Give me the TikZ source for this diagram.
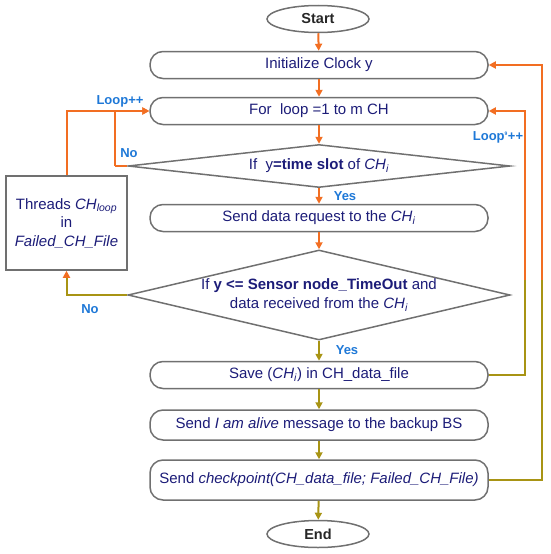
\documentclass[tikz,border=0pt]{standalone}
\usepackage{fontspec}
\setmainfont{Liberation Sans}
\usetikzlibrary{shapes.geometric,arrows.meta}
\definecolor{orng}{RGB}{242,110,34}
\definecolor{olv}{RGB}{168,148,20}
\definecolor{lblue}{RGB}{30,120,215}
\definecolor{navy}{RGB}{28,28,120}
\definecolor{bord}{RGB}{112,112,112}
\tikzset{
  x=1pt,y=-1pt,
  txt/.style={font=\fontsize{15}{18.5}\selectfont, text=navy},
  procbox/.style={txt, draw=bord, line width=1.5pt, rounded corners=13pt, minimum width=338pt, minimum height=27pt, inner sep=2pt},
  term/.style={draw=bord, line width=1.5pt, ellipse, minimum width=102pt, minimum height=27pt, inner sep=0pt, font=\fontsize{14.5}{17}\selectfont\bfseries, text=black!85},
  decis/.style={draw=bord, line width=1.5pt, diamond, inner sep=0pt, minimum width=382pt},
  lbl/.style={font=\fontsize{13}{15}\selectfont\bfseries, text=lblue},
  oarr/.style={draw=orng, line width=2pt, -{Triangle[length=7pt,width=7pt]}},
  yarr/.style={draw=olv, line width=2pt, -{Triangle[length=7pt,width=7pt]}},
  oline/.style={draw=orng, line width=2pt},
  yline/.style={draw=olv, line width=2pt},
}
\newcommand{\CHi}{\textit{CH}\textsubscript{\textit{i}}}
\begin{document}
\begin{tikzpicture}
\useasboundingbox (0,0) rectangle (550,554);
\node[term] (start) at (318,19) {Start};
\node[procbox] (init) at (319,65) {Initialize Clock y};
\node[procbox] (for) at (319,111) {For\ \ loop =1 to m CH};
\node[decis, aspect=8.9, minimum height=43pt] (d1) at (319,166) {};
\node[txt] (d1t) at (d1) {If\ \ y\textbf{=time slot} of \CHi};
\node[procbox] (req) at (319,218) {Send data request to the \CHi};
\node[decis, aspect=4.24, minimum height=90pt] (d2) at (319,295) {};
\node[txt, align=center] (d2t) at (d2) {If \textbf{y <= Sensor node\_TimeOut} and\\data received from the \CHi};
\node[procbox] (save) at (319,375) {Save (\CHi) in CH\_data\_file};
\node[procbox, minimum height=30pt] (alive) at (319,425) {Send \textit{I am alive} message to the backup BS};
\node[procbox, minimum height=40pt] (chk) at (319,480) {Send \textit{checkpoint(CH\_data\_file; Failed\_CH\_File)}};
\node[term] (end) at (318,534) {End};
\node[txt, draw=bord, line width=1.5pt, minimum width=121pt, minimum height=94pt, inner sep=1pt, align=center] (thr) at (66.5,223) {Threads \textit{CH}\textsubscript{\textit{loop}}\\in\\\textit{Failed\_CH\_File}};
% main flow
\draw[oarr] (start) -- (init);
\draw[oarr] (init) -- (for);
\draw[oarr] (for) -- (d1);
\draw[oarr] (d1) -- (req);
\draw[oarr] (req) -- (d2);
\draw[yarr] (d2) -- (save);
\draw[yarr] (save) -- (alive);
\draw[yarr] (alive) -- (chk);
\draw[yarr] (chk) -- (end);
% left loops
\coordinate (nob) at (115,166);
\draw[oline] (d1.west) -- (nob);
\draw[oarr] (nob) |- (for.west);
\draw[oarr] (thr.north) |- (for.west);
\draw[yline, -{Triangle[length=7pt,width=7pt,color=orng]}] (d2.west) -| (thr.south);
% right loops
\coordinate (r1) at (525,280);
\coordinate (r2) at (542,280);
\draw[yline] (save.east) -| (r1);
\draw[oarr] (r1) |- (for.east);
\draw[yline] (chk.east) -| (r2);
\draw[oarr] (r2) |- (init.east);
% labels
\node[lbl] (lp1) at (120,101) {Loop++};
\node[lbl] (no1) at (129,153) {No};
\node[lbl] (yes1) at (345,196) {Yes};
\node[lbl] (no2) at (90,309) {No};
\node[lbl] (yes2) at (347,350) {Yes};
\node[lbl] (lp2) at (498,137) {Loop\textsuperscript{\tiny 9}++};
\end{tikzpicture}
\end{document}
